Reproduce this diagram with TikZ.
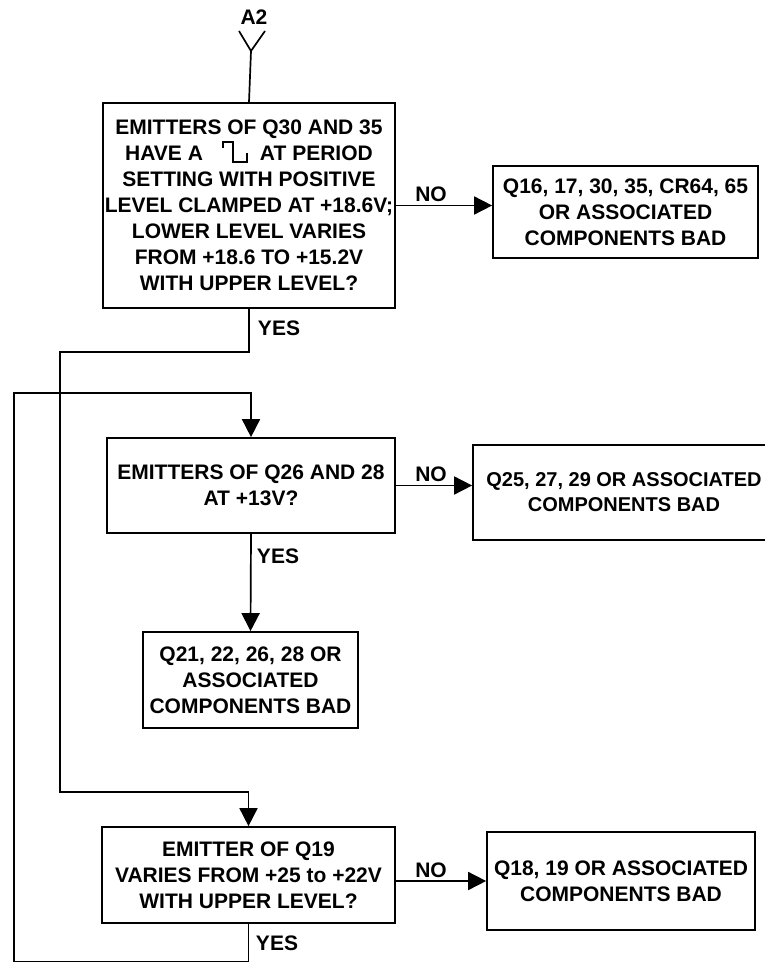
\documentclass[tikz,border=0pt]{standalone}
\usepackage{fontspec}
\setmainfont{Liberation Sans}
\usetikzlibrary{arrows.meta}
\begin{document}
\begin{tikzpicture}[x=1pt,y=-1pt,
  box/.style={draw, line width=1.7pt, rectangle, align=center, inner sep=0pt,
    font=\fontsize{21}{26}\selectfont\bfseries},
  lbl/.style={font=\fontsize{21}{26}\selectfont\bfseries, inner sep=0pt},
  conn/.style={line width=1.7pt},
  arr/.style={conn, -{Triangle[length=18pt,width=18pt]}}]
\clip (0,0) rectangle (765,963);
% boxes
\node[box, minimum width=292pt, minimum height=205pt] (b1) at (249,205.5)
  {EMITTERS OF Q30 AND 35\\HAVE A\hspace{57pt}AT PERIOD\\SETTING WITH POSITIVE\\LEVEL CLAMPED AT +18.6V;\\LOWER LEVEL VARIES\\FROM +18.6 TO +15.2V\\WITH UPPER LEVEL?};
\node[box, minimum width=265pt, minimum height=92pt] (b2) at (625.5,212)
  {Q16, 17, 30, 35, CR64, 65\\OR ASSOCIATED\\COMPONENTS BAD};
\node[box, minimum width=288pt, minimum height=95pt] (b3) at (251,485.5)
  {EMITTERS OF Q26 AND 28\\AT +13V?};
\node[box, minimum width=302pt, minimum height=95pt, font=\fontsize{20}{25}\selectfont\bfseries] (b4) at (624,492.5)
  {Q25, 27, 29 OR ASSOCIATED\\COMPONENTS BAD};
\node[box, minimum width=215pt, minimum height=96pt] (q21) at (250.5,680)
  {Q21, 22, 26, 28 OR\\ASSOCIATED\\COMPONENTS BAD};
\node[box, minimum width=293pt, minimum height=96pt] (b5) at (248.5,875)
  {EMITTER OF Q19\\VARIES FROM +25 to +22V\\WITH UPPER LEVEL?};
\node[box, minimum width=268pt, minimum height=98pt] (b6) at (621,881)
  {Q18, 19 OR ASSOCIATED\\COMPONENTS BAD};
% square wave symbol in box 1
\draw[conn, shift={(b1.center)}] (-26,-57.5) -- (-26,-63.5) -- (-16,-63.5) -- (-16,-43.5) -- (-2,-43.5) -- (-2,-52.5);
% entry A2
\node[lbl] (a2) at (254,17) {A2};
\coordinate (v) at (251,51);
\coordinate (vl) at (239,31);
\coordinate (vr) at (265,31);
\draw[conn] (vl) -- (v) -- (vr);
\draw[conn] (v) -- (b1.north);
% NO branches
\draw[arr] (b1.east) -- (b1.east -| b2.west);
\node[lbl] (no1) at (431,194) {NO};
\draw[arr] (b3.east) -- (b3.east -| b4.west);
\node[lbl] (no3) at (431,474.5) {NO};
\draw[arr] (b5.east |- b6.west) -- (b6.west);
\node[lbl] (no5) at (431,870) {NO};
% YES from box 1 to box 5
\coordinate (j1) at (b1.south |- 0,352);
\coordinate (j2) at (60,352);
\coordinate (j3) at (60,792);
\coordinate (j4) at (b5.north |- 0,792);
\draw[arr] (b1.south) -- (j1) -- (j2) -- (j3) -- (j4) -- (b5.north);
\node[lbl] (yes1) at (279,328) {YES};
% YES from box 3
\draw[arr] (b3.south) -- (q21.north);
\node[lbl] (yes3) at (278,556) {YES};
% YES loop from box 5 to box 3
\coordinate (k1) at (b5.south |- 0,961.5);
\coordinate (k2) at (14,961.5);
\coordinate (k3) at (14,393);
\coordinate (k4) at (b3.north |- 0,393);
\draw[arr] (b5.south) -- (k1) -- (k2) -- (k3) -- (k4) -- (b3.north);
\node[lbl] (yes5) at (277,943) {YES};
\end{tikzpicture}
\end{document}
